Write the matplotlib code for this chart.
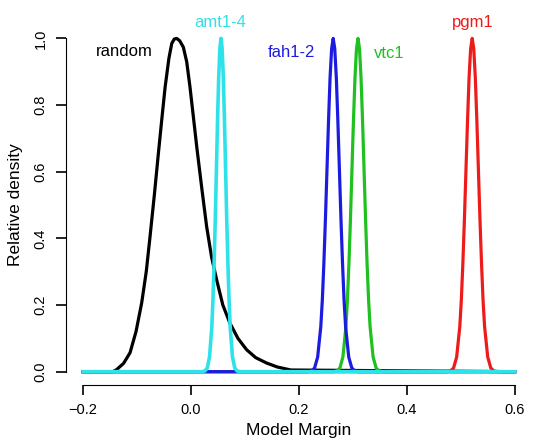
import matplotlib
matplotlib.use('Agg')
import matplotlib.pyplot as plt

plt.rcParams['font.family'] = ['Liberation Sans', 'DejaVu Sans']

# density curves (x = model margin, y = relative density)
random_x = [-0.2, -0.145, -0.138, -0.125, -0.113, -0.102, -0.0915, -0.083, -0.076, -0.068,
            -0.0605, -0.054, -0.048, -0.041, -0.0357, -0.031, -0.0265, -0.021, -0.0143,
            -0.008, -0.0019, 0.004, 0.0106, 0.020, 0.029, 0.038, 0.0476, 0.059, 0.072,
            0.087, 0.103, 0.120, 0.140, 0.160, 0.185, 0.6]
random_y = [0, 0, 0.006, 0.025, 0.057, 0.12, 0.206, 0.30, 0.405, 0.53,
            0.655, 0.76, 0.854, 0.94, 0.985, 0.998, 1.0, 0.993, 0.974,
            0.93, 0.854, 0.77, 0.675, 0.55, 0.435, 0.345, 0.275, 0.20, 0.146,
            0.10, 0.066, 0.042, 0.026, 0.014, 0.005, 0]

# the four gene peaks share the same profile heights
peak_y = [0, 0, 0.002, 0.011, 0.044, 0.135, 0.216, 0.325, 0.458, 0.607, 0.755, 0.882, 0.969,
          1.0,
          0.969, 0.882, 0.755, 0.607, 0.458, 0.325, 0.216, 0.135, 0.044, 0.011, 0.002, 0, 0]

amt_x = [-0.2, 0.020, 0.0258, 0.0301, 0.0343, 0.0386, 0.0407, 0.0428, 0.0450, 0.0471, 0.0492, 0.0513, 0.0535,
         0.0556,
         0.0577, 0.0599, 0.0620, 0.0641, 0.0662, 0.0684, 0.0705, 0.0726, 0.0769, 0.0811, 0.0854, 0.091, 0.6]
fah_x = [-0.2, 0.216, 0.2233, 0.2291, 0.2348, 0.2406, 0.2435, 0.2463, 0.2492, 0.2521, 0.2550, 0.2578, 0.2607,
         0.2636,
         0.2665, 0.2694, 0.2722, 0.2751, 0.2780, 0.2809, 0.2837, 0.2866, 0.2924, 0.2981, 0.3039, 0.311, 0.6]
vtc_x = [-0.2, 0.263, 0.2704, 0.2760, 0.2816, 0.2872, 0.2900, 0.2928, 0.2956, 0.2984, 0.3012, 0.3040, 0.3068,
         0.3096,
         0.3124, 0.3152, 0.3180, 0.3208, 0.3236, 0.3264, 0.3292, 0.3320, 0.3376, 0.3432, 0.3488, 0.356, 0.6]
pgm_x = [-0.2, 0.474, 0.4810, 0.4868, 0.4925, 0.4983, 0.5012, 0.5040, 0.5069, 0.5098, 0.5127, 0.5155, 0.5184,
         0.5213,
         0.5242, 0.5271, 0.5299, 0.5328, 0.5357, 0.5386, 0.5414, 0.5443, 0.5501, 0.5558, 0.5616, 0.569, 0.6]

c_amt = '#2fe2ea'
c_fah = '#1c1ce0'
c_vtc = '#1fc01f'
c_pgm = '#ee1b1b'

fig = plt.figure(figsize=(5.4, 4.4), dpi=100)
ax = fig.add_axes([0.122, 0.125, 0.863, 0.818])

lw = 2.3
ax.plot(random_x, random_y, color='black', lw=lw, solid_joinstyle='round')
ax.plot(pgm_x, peak_y, color=c_pgm, lw=lw, solid_joinstyle='round')
ax.plot(vtc_x, peak_y, color=c_vtc, lw=lw, solid_joinstyle='round')
ax.plot(fah_x, peak_y, color=c_fah, lw=lw, solid_joinstyle='round')
ax.plot(amt_x, peak_y, color=c_amt, lw=lw + 0.3, solid_joinstyle='round')

ax.text(-0.124, 0.962, 'random', color='black', fontsize=12, ha='center', va='center')
ax.text(0.055, 1.048, 'amt1-4', color=c_amt, fontsize=12, ha='center', va='center', clip_on=False)
ax.text(0.187, 0.958, 'fah1-2', color=c_fah, fontsize=12, ha='center', va='center')
ax.text(0.367, 0.955, 'vtc1', color=c_vtc, fontsize=12, ha='center', va='center')
ax.text(0.522, 1.048, 'pgm1', color=c_pgm, fontsize=12, ha='center', va='center', clip_on=False)

ax.set_xlim(-0.232, 0.632)
ax.set_ylim(-0.04, 1.04)
for s in ['top', 'right']:
    ax.spines[s].set_visible(False)
ax.spines['bottom'].set_bounds(-0.2, 0.6)
ax.spines['left'].set_bounds(0, 1)
ax.set_xticks([-0.2, 0.0, 0.2, 0.4, 0.6])
ax.set_xticklabels(['\u22120.2', '0.0', '0.2', '0.4', '0.6'])
ax.set_yticks([0.0, 0.2, 0.4, 0.6, 0.8, 1.0])
ax.set_yticklabels(['0.0', '0.2', '0.4', '0.6', '0.8', '1.0'], rotation=90, va='center')
ax.tick_params(direction='out', length=7, width=1.2, labelsize=10.5, pad=6)
ax.set_xlabel('Model Margin', fontsize=12.5, labelpad=4)
ax.set_ylabel('Relative density', fontsize=12.5, labelpad=8)

fig.savefig('out.png', dpi=100)
